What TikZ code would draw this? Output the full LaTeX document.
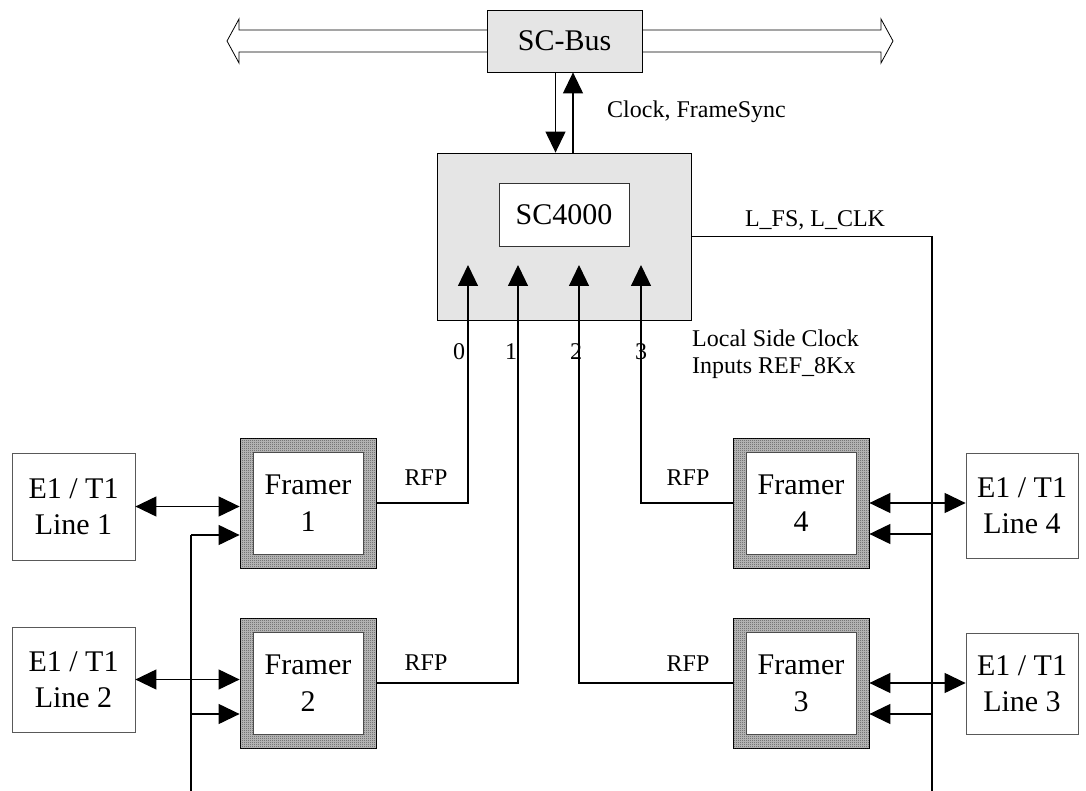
\documentclass[tikz,border=0pt]{standalone}
\usepackage{fontspec}
\setmainfont{Liberation Serif}
\usetikzlibrary{arrows.meta,calc,patterns.meta}
\newcommand\fbig{\fontsize{30}{36}\selectfont}
\newcommand\fsmall{\fontsize{24}{28}\selectfont}
\tikzdeclarepattern{
  name=finedots,
  type=uncolored,
  bounding box={(0,0) and (2pt,2pt)},
  tile size={(2pt,2pt)},
  code={\pgfpathrectangle{\pgfpointorigin}{\pgfpoint{1pt}{1pt}}\pgfusepath{fill}}
}
\begin{document}
\begin{tikzpicture}[x=1pt,y=-1pt,
  conn/.style={line width=1.2pt},
  tip/.style={-{Triangle[length=21pt,width=20pt]}},
  both/.style={{Triangle[length=21pt,width=20pt]}-{Triangle[length=21pt,width=20pt]}},
  graybox/.style={draw=black, line width=0.8pt, fill=black!10, inner sep=0pt},
  whitebox/.style={draw=black!80, line width=0.8pt, fill=white, inner sep=0pt, font=\fbig},
  lbox/.style={draw=black!65, line width=0.8pt, fill=white, align=center, inner sep=0pt, font=\fbig},
  fout/.style={draw=black, line width=0.8pt, fill=black!30, postaction={pattern=finedots, pattern color=black!85},
    minimum width=136pt, minimum height=130pt, inner sep=0pt},
  fin/.style={draw=black!70, line width=0.8pt, fill=white, minimum width=110pt, minimum height=102pt,
    inner sep=0pt, align=center, font=\fontsize{30}{37}\selectfont},
  lab/.style={font=\fsmall, inner sep=0pt},
  bus/.style={draw=black, line width=0.8pt, fill=white}
]
\useasboundingbox (0,0) rectangle (1086,791);

% SC-Bus double arrows
\draw[bus] (487,30) -- (239,30) -- (239,19) -- (227,41) -- (239,63) -- (239,52) -- (487,52);
\draw[bus] (642,30) -- (881,30) -- (881,19) -- (893,41) -- (881,63) -- (881,52) -- (642,52);
\node[graybox, minimum width=155pt, minimum height=62pt, font=\fbig] (scbus) at (564.5,41) {SC-Bus};

% SC4000
\node[graybox, minimum width=254pt, minimum height=167pt] (sc) at (564,236.5) {};
\node[whitebox, minimum width=130pt, minimum height=63pt] (sci) at (564,214.5) {SC4000};

\draw[conn,tip] ([xshift=-9pt]scbus.south) -- ([xshift=-9pt]scbus.south |- sc.north);
\draw[conn,tip] ([xshift=9pt]sc.north) -- ([xshift=9pt]sc.north |- scbus.south);
\node[lab, anchor=west] (clk) at (607,112) {Clock, FrameSync};

% framers
\node[fout] (f1) at (308,503) {};
\node[fin] (f1i) at (f1) {Framer\\1};
\node[fout] (f2) at (308,683) {};
\node[fin] (f2i) at (f2) {Framer\\2};
\node[fout] (f4) at (801,503) {};
\node[fin] (f4i) at (f4) {Framer\\4};
\node[fout] (f3) at (801,683) {};
\node[fin] (f3i) at (f3) {Framer\\3};

% lines
\node[lbox, minimum width=123pt, minimum height=107pt] (l1) at (73.5,506.5) {E1 / T1\\Line 1};
\node[lbox, minimum width=123pt, minimum height=105pt] (l2) at (73.5,679.5) {E1 / T1\\Line 2};
\node[lbox, minimum width=112pt, minimum height=105pt] (l4) at (1022,505.5) {E1 / T1\\Line 4};
\node[lbox, minimum width=112pt, minimum height=101pt] (l3) at (1022,683.5) {E1 / T1\\Line 3};

% clock inputs
\coordinate (in0) at (468,265);
\coordinate (in1) at (518,265);
\coordinate (in2) at (579,265);
\coordinate (in3) at (641,265);
\draw[conn,tip] (f1.east) -| (in0);
\draw[conn,tip] (f2.east) -| (in1);
\draw[conn,tip] (f3.west) -| (in2);
\draw[conn,tip] (f4.west) -| (in3);
\node[lab] (d0) at (459,352) {0};
\node[lab] (d1) at (511,352) {1};
\node[lab] (d2) at (576,352) {2};
\node[lab] (d3) at (641,352) {3};
\node[lab] (rfp1) at (426,478) {RFP};
\node[lab] (rfp2) at (426,663) {RFP};
\node[lab] (rfp4) at (688,478) {RFP};
\node[lab] (rfp3) at (688,664) {RFP};
\node[lab, align=left, anchor=west, font=\fontsize{24}{27}\selectfont] (local) at (692,354) {Local Side Clock\\Inputs REF\_8Kx};

% L_FS, L_CLK
\coordinate (rbot) at (932,791);
\draw[conn] (sc.east) -| (rbot);
\node[lab] (lfs) at (815,220) {L\_FS, L\_CLK};
\coordinate (r4) at (932,534);
\coordinate (r3) at (932,714);
\draw[conn,tip] (r4) -- (r4 -| f4.east);
\draw[conn,tip] (r3) -- (r3 -| f3.east);

% left clock line
\coordinate (lbot) at (191,791);
\coordinate (k1) at (191,535);
\coordinate (k2) at (191,714);
\draw[conn] (lbot) -- (k1);
\draw[conn,tip] (k1) -- (k1 -| f1.west);
\draw[conn,tip] (k2) -- (k2 -| f2.west);

% bidirectional line connections
\draw[conn,both] (l1.east) -- (l1.east -| f1.west);
\draw[conn,both] (l2.east) -- (l2.east -| f2.west);
\draw[conn,both] (f4.east) -- (f4.east -| l4.west);
\draw[conn,both] (f3.east) -- (f3.east -| l3.west);
\end{tikzpicture}
\end{document}
